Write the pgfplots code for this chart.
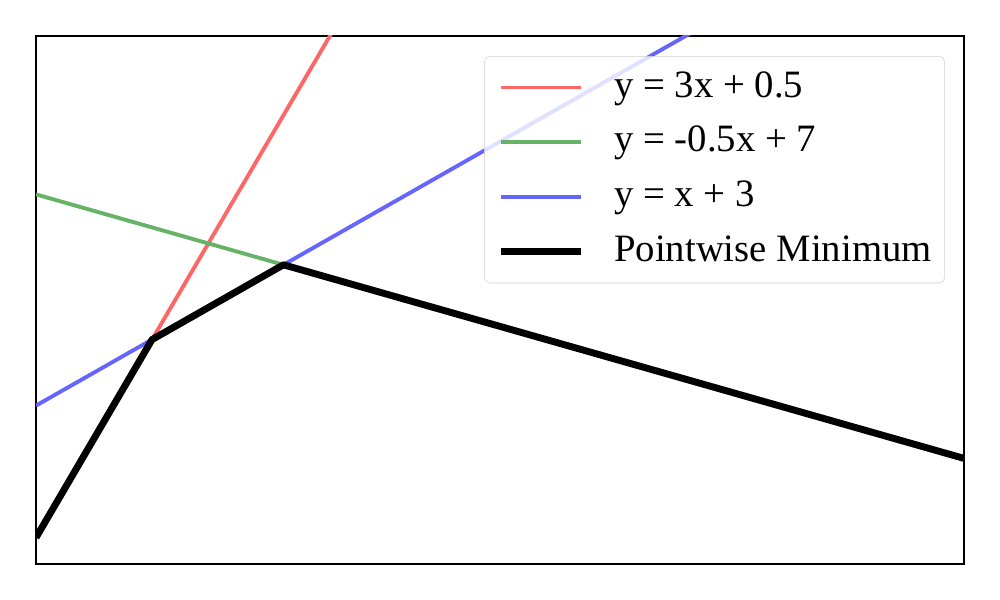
\documentclass[border=0pt]{standalone}
\usepackage{pgfplots}
\pgfplotsset{compat=1.18}
\usepackage{fontspec}
\setmainfont{Liberation Serif}
\definecolor{cred}{HTML}{FF6666}
\definecolor{cgreen}{HTML}{66B266}
\definecolor{cblue}{HTML}{6666FF}
\begin{document}
\begin{tikzpicture}
\path[use as bounding box] (-0.36in,-0.36in) rectangle (9.64in,5.64in);
\begin{axis}[
  at={(0,0)}, anchor=south west,
  scale only axis, width=9.28in, height=5.28in,
  xmin=0, xmax=10, ymin=0, ymax=10,
  xtick=\empty, ytick=\empty,
  axis line style={line width=0.8pt},
  clip=true,
  legend cell align=left,
  legend image code/.code={\draw[#1] (0in,0in) -- (0.8in,0in);},
  legend style={
    at={(0.9795,0.962)}, anchor=north east,
    font=\fontsize{28}{34}\selectfont,
    draw=black!18, rounded corners=4pt, fill=white, fill opacity=0.8, text opacity=1,
    inner xsep=9.4pt, inner ysep=8.5pt,
    row sep=11.6pt, column sep=21.6pt,
    nodes={inner xsep=0pt, inner ysep=1pt, text height=20pt, text depth=6pt},
  },
]
\addplot[cred, line width=2.8pt] coordinates {(0,0.5) (10,30.5)};
\addlegendentry{y = 3x + 0.5}
\addplot[cgreen, line width=2.8pt] coordinates {(0,7) (10,2)};
\addlegendentry{y = -0.5x + 7}
\addplot[cblue, line width=2.8pt] coordinates {(0,3) (10,13)};
\addlegendentry{y = x + 3}
\addplot[black, line width=5pt, line join=round] coordinates {(0,0.5) (1.25,4.25) (2.6667,5.6667) (10,2)};
\addlegendentry{Pointwise Minimum}
\end{axis}
\end{tikzpicture}
\end{document}
